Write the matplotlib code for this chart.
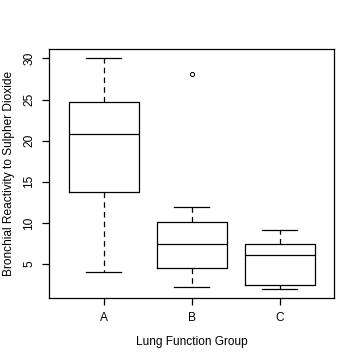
import matplotlib
matplotlib.use("Agg")
import matplotlib.pyplot as plt

plt.rcParams['font.family'] = ['Liberation Sans', 'DejaVu Sans']
plt.rcParams['lines.scale_dashes'] = False

groups = ["A", "B", "C"]
whislo = [4.0, 2.2, 2.0]
q1 = [13.7, 4.5, 2.45]
med = [20.8, 7.4, 6.1]
q3 = [24.7, 10.1, 7.4]
whishi = [30.0, 11.9, 9.1]
outliers = [[], [28.1], []]

stats = []
for i, g in enumerate(groups):
    stats.append(dict(label=g, whislo=whislo[i], q1=q1[i], med=med[i],
                      q3=q3[i], whishi=whishi[i], fliers=outliers[i]))

fig = plt.figure(figsize=(3.6, 3.6), dpi=100)
ax = fig.add_axes([49.3/360, 1-298/360, 285/360, (298-49.3)/360])

lw = 0.9
ax.bxp(stats, positions=[1, 2, 3], widths=0.8, showfliers=True,
       boxprops=dict(color='black', linewidth=lw),
       medianprops=dict(color='black', linewidth=lw),
       whiskerprops=dict(color='black', linewidth=lw, linestyle=(0, (4, 3))),
       capprops=dict(color='black', linewidth=lw),
       capwidths=0.4,
       flierprops=dict(marker='o', markersize=3, markerfacecolor='none',
                       markeredgecolor='black', markeredgewidth=0.7))

ax.set_xlim(0.38, 3.62)
ax.set_ylim(0.88, 31.1)
ax.set_yticks([5, 10, 15, 20, 25, 30])
ax.set_yticklabels(["5", "10", "15", "20", "25", "30"], rotation=90, va='center')
ax.set_xticks([1, 2, 3])
ax.set_xticklabels(groups)
ax.tick_params(axis='both', direction='out', length=5, width=0.9, labelsize=8.6, colors='black', pad=5)
for s in ax.spines.values():
    s.set_linewidth(0.9)
ax.set_xlabel("Lung Function Group", fontsize=8.6, labelpad=9)
ax.set_ylabel("Bronchial Reactivity to Sulpher Dioxide", fontsize=8.6, labelpad=6)

fig.savefig("out.png", dpi=100)
